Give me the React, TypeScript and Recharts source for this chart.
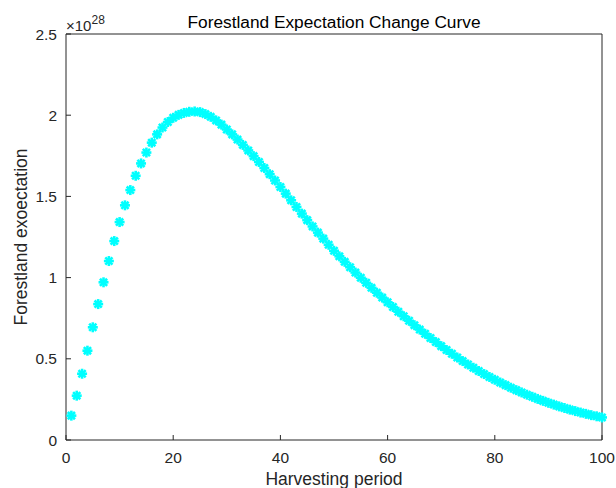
import { ScatterChart, Scatter, XAxis, YAxis, Label } from "recharts";

// forestland expectation per harvesting period, in units of 1e28
const expectation = [
  0.150, 0.273, 0.408, 0.550, 0.694, 0.837, 0.971, 1.102, 1.225, 1.342,
  1.445, 1.539, 1.627, 1.703, 1.770, 1.831, 1.882, 1.924, 1.958, 1.984,
  2.002, 2.014, 2.021, 2.023, 2.019, 2.007, 1.990, 1.968, 1.942, 1.912,
  1.882, 1.850, 1.817, 1.783, 1.748, 1.712, 1.675, 1.637, 1.598, 1.558,
  1.517, 1.476, 1.435, 1.394, 1.354, 1.315, 1.277, 1.240, 1.202, 1.165,
  1.131, 1.097, 1.064, 1.031, 0.999, 0.968, 0.937, 0.907, 0.877, 0.848,
  0.819, 0.790, 0.762, 0.734, 0.707, 0.680, 0.654, 0.628, 0.603, 0.578,
  0.554, 0.531, 0.508, 0.486, 0.465, 0.445, 0.425, 0.406, 0.388, 0.371,
  0.354, 0.338, 0.322, 0.307, 0.293, 0.279, 0.266, 0.253, 0.241, 0.229,
  0.218, 0.207, 0.197, 0.187, 0.178, 0.169, 0.161, 0.153, 0.146, 0.139,
];
const periods = expectation.map((_, i) => i + 1);
const xTicks = [0, 20, 40, 60, 80, 100];
const yTicks = [0, 0.5, 1, 1.5, 2, 2.5];

const ink = "#262626";
const font = "'Liberation Sans', Arial, Helvetica, sans-serif";
const tickStyle = { fill: ink, fontSize: 15.5, fontFamily: font };

const data = periods.map((p, i) => ({ period: p, value: expectation[i] }));

function Asterisk({ cx, cy }: any) {
  const r = 5;
  const d = r * 0.72;
  return (
    <g stroke="#00ffff" strokeWidth={2.6}>
      <line x1={cx - r} y1={cy} x2={cx + r} y2={cy} />
      <line x1={cx} y1={cy - r} x2={cx} y2={cy + r} />
      <line x1={cx - d} y1={cy - d} x2={cx + d} y2={cy + d} />
      <line x1={cx - d} y1={cy + d} x2={cx + d} y2={cy - d} />
    </g>
  );
}

export default function App() {
  return (
    <div style={{ position: "absolute", left: 0, top: 0, width: 616, height: 488, background: "#fff" }}>
      <ScatterChart width={616} height={488} margin={{ top: 33, right: 13, bottom: 0, left: 0 }}>
        <XAxis
          xAxisId="bottom"
          dataKey="period"
          type="number"
          domain={[0, 100]}
          ticks={xTicks}
          interval={0}
          height={48}
          stroke={ink}
          tickSize={-5}
          tickMargin={17}
          tick={tickStyle}
        >
          <Label value="Harvesting period" position="insideBottom" offset={3} fill={ink} fontSize={17.5} fontFamily={font} />
        </XAxis>
        <XAxis
          xAxisId="top"
          orientation="top"
          type="number"
          domain={[0, 100]}
          ticks={xTicks}
          interval={0}
          height={1}
          stroke={ink}
          tickSize={-5}
          tick={false}
        />
        <YAxis
          yAxisId="left"
          dataKey="value"
          type="number"
          domain={[0, 2.5]}
          ticks={yTicks}
          interval={0}
          width={66}
          stroke={ink}
          tickSize={-5}
          tickMargin={14}
          tick={tickStyle}
        >
          <Label
            value="Forestland exoectation"
            angle={-90}
            position="insideLeft"
            offset={21}
            fill={ink}
            fontSize={17.5}
            fontFamily={font}
            style={{ textAnchor: "middle" }}
          />
        </YAxis>
        <YAxis
          yAxisId="right"
          orientation="right"
          type="number"
          domain={[0, 2.5]}
          ticks={yTicks}
          interval={0}
          width={1}
          stroke={ink}
          tickSize={-5}
          tick={false}
        />
        <Scatter
          data={data}
          xAxisId="bottom"
          yAxisId="left"
          fill="#00ffff"
          shape={Asterisk}
          isAnimationActive={false}
        />
      </ScatterChart>
      <svg width={616} height={40} style={{ position: "absolute", left: 0, top: 0, pointerEvents: "none" }}>
        <text x={334} y={28} textAnchor="middle" fontSize={17.3} fontFamily={font} fill="#000">
          Forestland Expectation Change Curve
        </text>
        <text x={66} y={31} fontSize={15} fontFamily={font} fill={ink}>
          ×10<tspan dy={-7} fontSize={12}>28</tspan>
        </text>
      </svg>
    </div>
  );
}
